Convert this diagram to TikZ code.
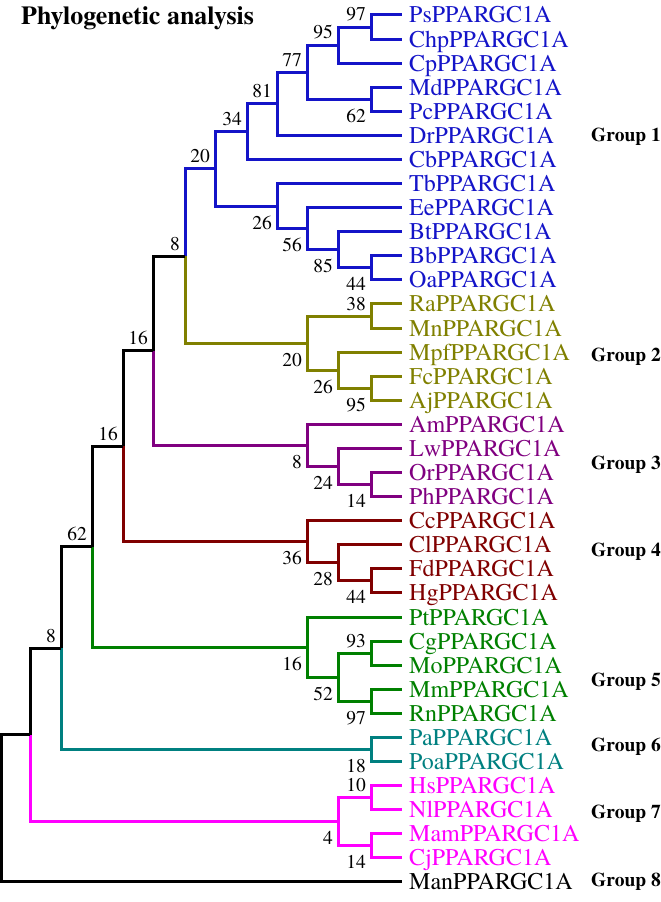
\documentclass[tikz,border=0pt]{standalone}
\usepackage{fontspec}
\setmainfont{TeX Gyre Termes}
\definecolor{gOne}{RGB}{20,20,200}
\definecolor{gTwo}{RGB}{128,128,0}
\definecolor{gThree}{RGB}{128,0,128}
\definecolor{gFour}{RGB}{128,0,0}
\definecolor{gFive}{RGB}{0,128,0}
\definecolor{gSix}{RGB}{0,128,128}
\definecolor{gSeven}{RGB}{255,0,255}
\tikzstyle{branch} = [line width=3pt, to path={|- (\tikztotarget)}]
\tikzstyle{leaf} = [anchor=west, inner xsep=7pt, inner ysep=0pt, font=\fontsize{24}{24}\selectfont, text height=15.9pt, text depth=0pt]
\tikzstyle{boot} = [font=\fontsize{19.5}{19.5}\selectfont, inner xsep=5pt]
\tikzstyle{bsup} = [boot, anchor=south east, inner ysep=5.5pt]
\tikzstyle{bsdown} = [boot, anchor=north east, inner ysep=9.5pt]
\tikzstyle{grp} = [anchor=west, inner sep=0pt, font=\bfseries\fontsize{19.5}{19.5}\selectfont, text height=12.9pt, text depth=0pt]
\tikzstyle{title} = [anchor=base west, inner sep=0pt, font=\bfseries\fontsize{26}{26}\selectfont]

\begin{document}
\begin{tikzpicture}[x=1pt,y=-24.083pt]
\useasboundingbox (0,-0.6228) rectangle (661,36.831);

\node[title] (head) at (21,0.415) {Phylogenetic analysis};

% leaves
\node[leaf, text=gOne] (Ps) at (402,0) {PsPPARGC1A};
\node[leaf, text=gOne] (Chp) at (402,1) {ChpPPARGC1A};
\node[leaf, text=gOne] (Cp) at (402,2) {CpPPARGC1A};
\node[leaf, text=gOne] (Md) at (402,3) {MdPPARGC1A};
\node[leaf, text=gOne] (Pc) at (402,4) {PcPPARGC1A};
\node[leaf, text=gOne] (Dr) at (402,5) {DrPPARGC1A};
\node[leaf, text=gOne] (Cb) at (402,6) {CbPPARGC1A};
\node[leaf, text=gOne] (Tb) at (402,7) {TbPPARGC1A};
\node[leaf, text=gOne] (Ee) at (402,8) {EePPARGC1A};
\node[leaf, text=gOne] (Bt) at (402,9) {BtPPARGC1A};
\node[leaf, text=gOne] (Bb) at (402,10) {BbPPARGC1A};
\node[leaf, text=gOne] (Oa) at (402,11) {OaPPARGC1A};
\node[leaf, text=gTwo] (Ra) at (402,12) {RaPPARGC1A};
\node[leaf, text=gTwo] (Mn) at (402,13) {MnPPARGC1A};
\node[leaf, text=gTwo] (Mpf) at (402,14) {MpfPPARGC1A};
\node[leaf, text=gTwo] (Fc) at (402,15) {FcPPARGC1A};
\node[leaf, text=gTwo] (Aj) at (402,16) {AjPPARGC1A};
\node[leaf, text=gThree] (Am) at (402,17) {AmPPARGC1A};
\node[leaf, text=gThree] (Lw) at (402,18) {LwPPARGC1A};
\node[leaf, text=gThree] (Or) at (402,19) {OrPPARGC1A};
\node[leaf, text=gThree] (Ph) at (402,20) {PhPPARGC1A};
\node[leaf, text=gFour] (Cc) at (402,21) {CcPPARGC1A};
\node[leaf, text=gFour] (Cl) at (402,22) {ClPPARGC1A};
\node[leaf, text=gFour] (Fd) at (402,23) {FdPPARGC1A};
\node[leaf, text=gFour] (Hg) at (402,24) {HgPPARGC1A};
\node[leaf, text=gFive] (Pt) at (402,25) {PtPPARGC1A};
\node[leaf, text=gFive] (Cg) at (402,26) {CgPPARGC1A};
\node[leaf, text=gFive] (Mo) at (402,27) {MoPPARGC1A};
\node[leaf, text=gFive] (Mm) at (402,28) {MmPPARGC1A};
\node[leaf, text=gFive] (Rn) at (402,29) {RnPPARGC1A};
\node[leaf, text=gSix] (Pa) at (402,30) {PaPPARGC1A};
\node[leaf, text=gSix] (Poa) at (402,31) {PoaPPARGC1A};
\node[leaf, text=gSeven] (Hs) at (402,32) {HsPPARGC1A};
\node[leaf, text=gSeven] (Nl) at (402,33) {NlPPARGC1A};
\node[leaf, text=gSeven] (Mam) at (402,34) {MamPPARGC1A};
\node[leaf, text=gSeven] (Cj) at (402,35) {CjPPARGC1A};
\node[leaf] (Man) at (402,36) {ManPPARGC1A};

% inner nodes
\coordinate (n97) at (371,0.5);
\coordinate (n95) at (338,1.25);
\coordinate (n62a) at (371,3.5);
\coordinate (n77) at (307,2.375);
\coordinate (n81) at (277,3.6875);
\coordinate (n34) at (247,4.84375);
\coordinate (n44a) at (371,10.5);
\coordinate (n85) at (338,9.75);
\coordinate (n56) at (307,8.875);
\coordinate (n26a) at (277,7.9375);
\coordinate (n20a) at (215,6.390625);
\coordinate (n38) at (371,12.5);
\coordinate (n95b) at (371,15.5);
\coordinate (n26b) at (338,14.75);
\coordinate (n20b) at (307,13.625);
\coordinate (n8a) at (185,10.0078);
\coordinate (n14a) at (371,19.5);
\coordinate (n24) at (338,18.75);
\coordinate (n8b) at (307,17.875);
\coordinate (n16a) at (153,13.9414);
\coordinate (n44b) at (371,23.5);
\coordinate (n28) at (338,22.75);
\coordinate (n36) at (307,21.875);
\coordinate (n16b) at (123,17.9082);
\coordinate (n93) at (371,26.5);
\coordinate (n97b) at (371,28.5);
\coordinate (n52) at (338,27.5);
\coordinate (n16c) at (307,26.25);
\coordinate (n62b) at (92,22.0791);
\coordinate (n18) at (371,30.5);
\coordinate (n8c) at (61,26.2896);
\coordinate (n10) at (371,32.5);
\coordinate (n14b) at (371,34.5);
\coordinate (n4) at (338,33.5);
\coordinate (nbase) at (30,29.8948);
\coordinate (nroot) at (1.5,32.9474);

% group 1
\path[gOne]
(n97) edge [branch] (Ps.west)
(n97) edge [branch] (Chp.west)
(n95) edge [branch] (n97)
(n95) edge [branch] (Cp.west)
(n62a) edge [branch] (Md.west)
(n62a) edge [branch] (Pc.west)
(n77) edge [branch] (n95)
(n77) edge [branch] (n62a)
(n81) edge [branch] (n77)
(n81) edge [branch] (Dr.west)
(n34) edge [branch] (n81)
(n34) edge [branch] (Cb.west)
(n44a) edge [branch] (Bb.west)
(n44a) edge [branch] (Oa.west)
(n85) edge [branch] (Bt.west)
(n85) edge [branch] (n44a)
(n56) edge [branch] (Ee.west)
(n56) edge [branch] (n85)
(n26a) edge [branch] (Tb.west)
(n26a) edge [branch] (n56)
(n20a) edge [branch] (n34)
(n20a) edge [branch] (n26a)
(n8a) edge [branch] (n20a);

% group 2
\path[gTwo]
(n38) edge [branch] (Ra.west)
(n38) edge [branch] (Mn.west)
(n95b) edge [branch] (Fc.west)
(n95b) edge [branch] (Aj.west)
(n26b) edge [branch] (Mpf.west)
(n26b) edge [branch] (n95b)
(n20b) edge [branch] (n38)
(n20b) edge [branch] (n26b)
(n8a) edge [branch] (n20b);

% group 3
\path[gThree]
(n14a) edge [branch] (Or.west)
(n14a) edge [branch] (Ph.west)
(n24) edge [branch] (Lw.west)
(n24) edge [branch] (n14a)
(n8b) edge [branch] (Am.west)
(n8b) edge [branch] (n24)
(n16a) edge [branch] (n8b);

% group 4
\path[gFour]
(n44b) edge [branch] (Fd.west)
(n44b) edge [branch] (Hg.west)
(n28) edge [branch] (Cl.west)
(n28) edge [branch] (n44b)
(n36) edge [branch] (Cc.west)
(n36) edge [branch] (n28)
(n16b) edge [branch] (n36);

% group 5
\path[gFive]
(n93) edge [branch] (Cg.west)
(n93) edge [branch] (Mo.west)
(n97b) edge [branch] (Mm.west)
(n97b) edge [branch] (Rn.west)
(n52) edge [branch] (n93)
(n52) edge [branch] (n97b)
(n16c) edge [branch] (Pt.west)
(n16c) edge [branch] (n52)
(n62b) edge [branch] (n16c);

% group 6
\path[gSix]
(n18) edge [branch] (Pa.west)
(n18) edge [branch] (Poa.west)
(n8c) edge [branch] (n18);

% group 7
\path[gSeven]
(n10) edge [branch] (Hs.west)
(n10) edge [branch] (Nl.west)
(n14b) edge [branch] (Mam.west)
(n14b) edge [branch] (Cj.west)
(n4) edge [branch] (n10)
(n4) edge [branch] (n14b)
(nbase) edge [branch] (n4);

% backbone
\path
(n16a) edge [branch] (n8a)
(n16b) edge [branch] (n16a)
(n62b) edge [branch] (n16b)
(n8c) edge [branch] (n62b)
(nbase) edge [branch] (n8c)
(nroot) edge [branch] (nbase)
(nroot) edge [branch] (Man.west);

% bootstrap values
\node[bsup] (bn97) at (n97) {97};
\node[bsup] (bn95) at (n95) {95};
\node[bsup] (bn77) at (n77) {77};
\node[bsup] (bn81) at (n81) {81};
\node[bsup] (bn34) at (n34) {34};
\node[bsup] (bn20a) at (n20a) {20};
\node[bsup] (bn8a) at (n8a) {8};
\node[bsup] (bn38) at (n38) {38};
\node[bsup] (bn16a) at (n16a) {16};
\node[bsup] (bn16b) at (n16b) {16};
\node[bsup] (bn62b) at (n62b) {62};
\node[bsup] (bn8c) at (n8c) {8};
\node[bsup] (bn93) at (n93) {93};
\node[bsup] (bn10) at (n10) {10};
\node[bsdown] (bn62a) at (n62a) {62};
\node[bsdown] (bn26a) at (n26a) {26};
\node[bsdown] (bn56) at (n56) {56};
\node[bsdown] (bn85) at (n85) {85};
\node[bsdown] (bn44a) at (n44a) {44};
\node[bsdown] (bn20b) at (n20b) {20};
\node[bsdown] (bn26b) at (n26b) {26};
\node[bsdown] (bn95b) at (n95b) {95};
\node[bsdown] (bn8b) at (n8b) {8};
\node[bsdown] (bn24) at (n24) {24};
\node[bsdown] (bn14a) at (n14a) {14};
\node[bsdown] (bn36) at (n36) {36};
\node[bsdown] (bn28) at (n28) {28};
\node[bsdown] (bn44b) at (n44b) {44};
\node[bsdown] (bn16c) at (n16c) {16};
\node[bsdown] (bn52) at (n52) {52};
\node[bsdown] (bn97b) at (n97b) {97};
\node[bsdown] (bn18) at (n18) {18};
\node[bsdown] (bn4) at (n4) {4};
\node[bsdown] (bn14b) at (n14b) {14};

% groups
\node[grp] (grp1) at (591,4.98) {Group 1};
\node[grp] (grp2) at (591,14.1) {Group 2};
\node[grp] (grp3) at (591,18.6) {Group 3};
\node[grp] (grp4) at (591,22.2) {Group 4};
\node[grp] (grp5) at (591,27.6) {Group 5};
\node[grp] (grp6) at (591,30.3) {Group 6};
\node[grp] (grp7) at (591,33.1) {Group 7};
\node[grp] (grp8) at (591,35.9) {Group 8};

\end{tikzpicture}
\end{document}
